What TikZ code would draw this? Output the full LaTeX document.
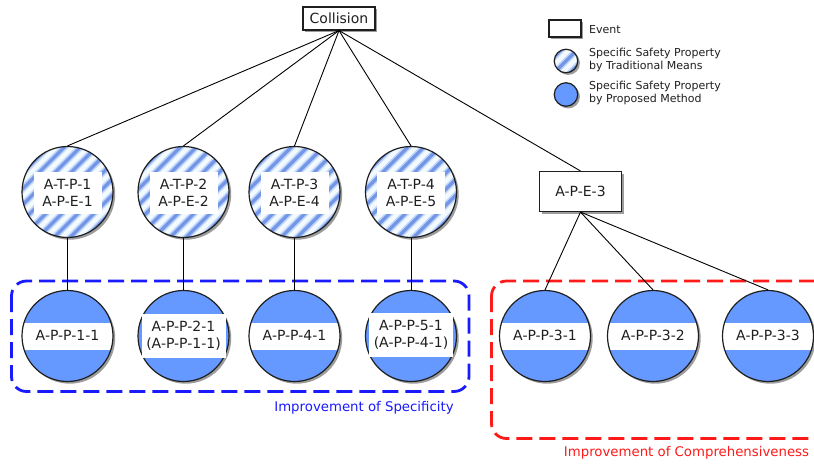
\documentclass[tikz,border=0pt]{standalone}
\usepackage{fontspec}
\setmainfont{DejaVu Sans}
\usetikzlibrary{shadows,calc}

\definecolor{propblue}{HTML}{6699FF}
\definecolor{stripeblue}{HTML}{7396E8}
\definecolor{stripehalo}{HTML}{C2D6F7}
\definecolor{stripebg}{HTML}{F2F9FF}
\definecolor{ink}{HTML}{1F1F1F}
\definecolor{specblue}{HTML}{1A1AFF}
\definecolor{comphred}{HTML}{FF1A1A}

\tikzset{
  softshadow/.style={drop shadow={shadow xshift=2.2pt,shadow yshift=-2.2pt,fill=black!55,opacity=0.7}},
  eventbox/.style={draw=ink, line width=1.1pt, fill=white, inner sep=0pt, softshadow,
    font=\fontsize{14}{17}\selectfont, text=ink},
  hatched/.style={circle, draw=ink, line width=1.2pt, inner sep=0pt, fill=stripebg, softshadow,
    path picture={
      \begin{scope}[shift={(path picture bounding box.center)}, x=1pt, y=1pt]
        \foreach \xo in {-198,-182,...,70}{
          \draw[stripehalo, line width=6.5pt] (\xo,-70) -- ++(140,140);
        }
        \foreach \xo in {-198,-182,...,70}{
          \draw[stripeblue, line width=3.4pt] (\xo,-70) -- ++(140,140);
        }
      \end{scope}
    }},
  propband/.style={circle, draw=ink, line width=1.2pt, inner sep=0pt, fill=propblue, softshadow,
    path picture={
      \begin{scope}[shift={(path picture bounding box.center)}, x=1pt, y=1pt]
        \fill[white] (-50,-13.5) rectangle (50,13.5);
      \end{scope}
    }},
  propplain/.style={circle, draw=ink, line width=1.2pt, inner sep=0pt, fill=propblue, softshadow},
  bigc/.style={minimum size=91pt},
  nametext/.style={inner sep=0pt, font=\fontsize{14}{17}\selectfont, text=ink, align=center},
  hlabel/.style={nametext, fill=white, minimum width=68pt, minimum height=42pt},
  plabel/.style={nametext, fill=white, minimum width=84pt, minimum height=44pt},
  link/.style={draw=black, line width=0.9pt},
  legendtext/.style={anchor=west, inner sep=0pt, font=\fontsize{11}{13.6}\selectfont, text=ink, align=left},
  groupframe/.style={line width=2.8pt, dash pattern=on 16pt off 7pt, rounded corners=15pt},
  grouplabel/.style={inner sep=0pt, font=\fontsize{13.3}{16}\selectfont}
}

\begin{document}
\begin{tikzpicture}[x=1pt,y=-1pt]
\useasboundingbox (0,0) rectangle (814,464);
\clip (0,0) rectangle (814,464);
\fill[white] (0,0) rectangle (814,464);

% group frames
\draw[groupframe, specblue] (11.5,281) rectangle (469,391.5);
\draw[groupframe, comphred] (491.5,281) rectangle (835,438.5);
\node[grouplabel, text=specblue] (lspec) at (364,407.5) {Improvement of Specificity};
\node[grouplabel, text=comphred] (lcomp) at (686.5,453) {Improvement of Comprehensiveness};

% top event
\node[eventbox, minimum width=72pt, minimum height=23pt] (col) at (339,18.5) {Collision};

% traditional-means properties
\node[hatched, bigc] (t1) at (67.5,192) {};
\node[hatched, bigc] (t2) at (183.5,192) {};
\node[hatched, bigc] (t3) at (294.5,192) {};
\node[hatched, bigc] (t4) at (411,192) {};
\node[hlabel] (t1l) at (67.5,193) {A-T-P-1\\A-P-E-1};
\node[hlabel] (t2l) at (183.5,193) {A-T-P-2\\A-P-E-2};
\node[hlabel] (t3l) at (294.5,193) {A-T-P-3\\A-P-E-4};
\node[hlabel] (t4l) at (411,193) {A-T-P-4\\A-P-E-5};

% intermediate event
\node[eventbox, minimum width=82pt, minimum height=40pt] (ape3) at (580.5,191.5) {A-P-E-3};

% proposed-method properties
\node[propband, bigc] (p1) at (67.5,336) {};
\node[propplain, bigc] (p2) at (183.5,336) {};
\node[propband, bigc] (p3) at (294.5,336) {};
\node[propplain, bigc] (p4) at (411,336) {};
\node[propband, bigc] (p5) at (545,336) {};
\node[propband, bigc] (p6) at (653,336) {};
\node[propband, bigc] (p7) at (768,336) {};
\node[nametext] (p1l) at (67.5,335.5) {A-P-P-1-1};
\node[plabel] (p2l) at (183.5,336) {A-P-P-2-1\\(A-P-P-1-1)};
\node[nametext] (p3l) at (294.5,335.5) {A-P-P-4-1};
\node[plabel] (p4l) at (411,335) {A-P-P-5-1\\(A-P-P-4-1)};
\node[nametext] (p5l) at (545,335.5) {A-P-P-3-1};
\node[nametext] (p6l) at (653,335.5) {A-P-P-3-2};
\node[nametext] (p7l) at (768,335.5) {A-P-P-3-3};

% connectors
\foreach \n in {t1,t2,t3,t4,ape3}{
  \draw[link] (col.south) -- (\n.north);
}
\draw[link] (t1.south) -- (p1.north);
\draw[link] (t2.south) -- (p2.north);
\draw[link] (t3.south) -- (p3.north);
\draw[link] (t4.south) -- (p4.north);
\foreach \n in {p5,p6,p7}{
  \draw[link] (ape3.south) -- (\n.north);
}

% legend
\node[eventbox, minimum width=32pt, minimum height=17pt] (kev) at (565,28.5) {};
\node[hatched, minimum size=23.5pt] (khat) at (566,61) {};
\node[propplain, minimum size=23.5pt] (kpro) at (566,94.5) {};
\node[legendtext] (kevt) at (589,29.5) {Event};
\node[legendtext] (khatt) at (589,60) {Specific Safety Property\\by Traditional Means};
\node[legendtext] (kprot) at (589,93) {Specific Safety Property\\by Proposed Method};
\end{tikzpicture}
\end{document}
